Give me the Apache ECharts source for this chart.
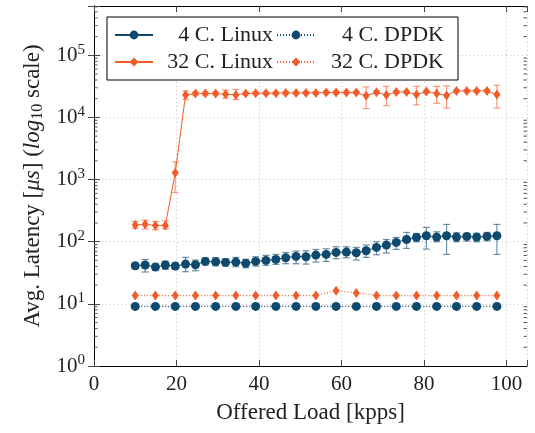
<!DOCTYPE html>
<html>
<head>
<meta charset="utf-8">
<script src="https://cdn.jsdelivr.net/npm/echarts@6/dist/echarts.min.js"></script>
<style>
  html, body { margin: 0; padding: 0; background: #fff; }
  #main { width: 535px; height: 433px; }
</style>
</head>
<body>
<div id="main"></div>
<script>
// offered load (kpps) for the two sampling grids
const loadLinux = [10.0, 12.4, 14.9, 17.3, 19.7, 22.2, 24.6, 27.0, 29.5, 31.9, 34.4, 36.8, 39.2, 41.7, 44.1, 46.5, 49.0, 51.4, 53.8, 56.3, 58.7, 61.2, 63.6, 66.0, 68.5, 70.9, 73.3, 75.8, 78.2, 80.6, 83.1, 85.5, 87.9, 90.4, 92.8, 95.3, 97.7];
const loadDpdk = [10.0, 14.9, 19.7, 24.6, 29.5, 34.4, 39.2, 44.1, 49.0, 53.8, 58.7, 63.6, 68.5, 73.3, 78.2, 83.1, 87.9, 92.8, 97.7];

// average latency in microseconds
const linux4 = [41.0, 42.1, 39.1, 42.1, 40.5, 43.6, 42.6, 48.2, 47.6, 46.4, 47.0, 44.8, 48.2, 50.0, 51.9, 55.2, 58.0, 57.3, 60.9, 62.4, 67.2, 68.0, 66.4, 71.5, 80.9, 88.2, 97.3, 108.7, 117.1, 124.5, 118.6, 124.5, 118.6, 121.6, 118.6, 121.6, 124.5];
const linux4Lo = [36.7, 32.5, 34.5, 35.8, 35.8, 32.9, 34.1, 42.1, 41.0, 40.5, 39.5, 38.1, 40.5, 41.5, 43.1, 44.2, 44.2, 43.6, 47.0, 48.2, 53.2, 55.2, 50.6, 55.9, 61.6, 65.6, 75.1, 78.0, 99.8, 76.0, 99.8, 62.4, 99.8, 102.3, 99.8, 103.5, 62.4];
const linux4Hi = [45.3, 51.9, 43.6, 48.8, 45.8, 55.9, 50.6, 55.2, 55.2, 53.2, 55.9, 51.9, 57.3, 60.2, 62.4, 67.2, 70.6, 71.5, 75.1, 77.0, 82.9, 82.9, 80.9, 88.2, 99.8, 108.7, 117.1, 141, 135.8, 169.5, 144.4, 189.6, 139.2, 135.8, 135.8, 141, 189.6];

const linux32 = [185, 190, 183, 183, 1282, 23000, 24200, 24200, 24200, 23600, 23000, 24200, 24500, 24500, 24500, 24800, 24800, 24800, 24800, 25100, 25100, 25100, 25100, 22200, 25400, 23000, 25700, 25700, 23300, 26000, 24200, 22500, 26700, 26700, 26700, 26700, 23300];
const linux32Lo = [164, 160, 155, 160, 620, 19600, 22900, 22900, 22900, 20400, 19400, 23000, 23300, 23300, 23300, 23600, 23600, 23600, 23600, 23900, 23900, 23900, 23900, 13900, 24100, 15500, 24400, 24400, 15900, 24700, 16900, 14100, 25400, 25400, 25400, 25400, 14100];
const linux32Hi = [212, 222, 212, 217, 1926, 26700, 25600, 25600, 25600, 27400, 28100, 25400, 25700, 25700, 25700, 26000, 26000, 26000, 26000, 26400, 26400, 26400, 26400, 31000, 26700, 31700, 27000, 27000, 31700, 27300, 31700, 32100, 28000, 28000, 28000, 28000, 32900];

const dpdk4 = [9.1, 9.1, 9.1, 9.1, 9.1, 9.1, 9.1, 9.1, 9.1, 9.1, 9.1, 9.1, 9.1, 9.1, 9.1, 9.1, 9.1, 9.1, 9.1];
const dpdk32 = [13.6, 13.6, 13.6, 13.6, 13.6, 13.6, 13.6, 13.6, 13.6, 13.6, 16.3, 15.0, 13.6, 13.6, 13.6, 13.6, 13.6, 13.6, 13.6];

const seriesNames = ['4 C. Linux', '4 C. DPDK', '32 C. Linux', '32 C. DPDK'];
const xTicks = [0, 20, 40, 60, 80, 100];
const yMin = 1, yMax = 620000;

const BLUE = '#0e4a6d';
const ORANGE = '#f15a29';
const FONT = '"Liberation Serif", "DejaVu Serif", serif';

// log-spaced minor tick positions (2..9 per decade)
const minorTicks = [];
[1, 10, 100, 1e3, 1e4, 1e5].forEach(d => {
  for (let m = 2; m <= 9; m++) if (d * m < yMax) minorTicks.push(d * m);
});

const zip = (xs, ys) => xs.map((x, i) => [x, ys[i]]);
const zip3 = (xs, a, b) => xs.map((x, i) => [x, a[i], b[i]]);

function errorBars(color) {
  return function (params, api) {
    const x = api.value(0);
    const lo = api.coord([x, api.value(1)]);
    const hi = api.coord([x, api.value(2)]);
    const w = 3.5;
    const style = { stroke: color, lineWidth: 1.2, opacity: 0.6 };
    return {
      type: 'group',
      children: [
        { type: 'line', shape: { x1: lo[0], y1: lo[1], x2: hi[0], y2: hi[1] }, style },
        { type: 'line', shape: { x1: lo[0] - w, y1: lo[1], x2: lo[0] + w, y2: lo[1] }, style },
        { type: 'line', shape: { x1: hi[0] - w, y1: hi[1], x2: hi[0] + w, y2: hi[1] }, style }
      ]
    };
  };
}

function minorTickRender(params, api) {
  const y = api.coord([0, api.value(1)])[1];
  const cs = params.coordSys;
  const style = { stroke: '#555', lineWidth: 1 };
  return {
    type: 'group',
    children: [
      { type: 'line', shape: { x1: cs.x, y1: y, x2: cs.x + 3.5, y2: y }, style },
      { type: 'line', shape: { x1: cs.x + cs.width - 3.5, y1: y, x2: cs.x + cs.width, y2: y }, style }
    ]
  };
}

const isPow10 = v => Math.abs(Math.log10(v) - Math.round(Math.log10(v))) < 1e-6;

var chartDom = document.getElementById('main');
var myChart = echarts.init(chartDom, null, { renderer: 'canvas' });
var option;

const tickStyle = { show: true, inside: true, length: 6, lineStyle: { color: '#444', width: 1 } };
const axisLine = { show: true, lineStyle: { color: '#000', width: 1 } };
const gridLine = { show: true, lineStyle: { color: '#c4c4c4', width: 1, type: [1, 3] } };

option = {
  animation: false,
  backgroundColor: '#fff',
  grid: { left: 94, right: 8, top: 6, bottom: 67 },
  legend: {
    data: seriesNames,
    left: 107,
    top: 17,
    width: 335,
    orient: 'horizontal',
    itemGap: 3,
    itemWidth: 38,
    itemHeight: 11,
    padding: [6, 14, 6, 7],
    borderColor: '#000',
    borderWidth: 1,
    borderRadius: 0,
    backgroundColor: '#fff',
    formatter: name => '{' + (name.indexOf('DPDK') >= 0 ? 'b' : 'a') + '|' + name + '}',
    textStyle: {
      fontFamily: FONT, fontSize: 22, color: '#222', lineHeight: 24,
      rich: {
        a: { width: 115, align: 'right', fontFamily: FONT, fontSize: 22, color: '#222', lineHeight: 24 },
        b: { width: 124, align: 'right', fontFamily: FONT, fontSize: 22, color: '#222', lineHeight: 24 }
      }
    }
  },
  xAxis: [
    {
      type: 'value', min: 0, max: 105, interval: 20,
      name: 'Offered Load [kpps]', nameLocation: 'middle', nameGap: 35,
      nameTextStyle: { fontFamily: FONT, fontSize: 23, color: '#222' },
      axisLine, axisTick: tickStyle, splitLine: gridLine,
      axisLabel: {
        margin: 8, fontFamily: FONT, fontSize: 21, color: '#222',
        formatter: v => (xTicks.indexOf(v) >= 0 ? String(v) : '')
      }
    },
    {
      type: 'value', min: 0, max: 105, interval: 20, position: 'top',
      axisLine, axisTick: tickStyle, splitLine: { show: false }, axisLabel: { show: false }
    }
  ],
  yAxis: [
    {
      type: 'log', logBase: 10, min: yMin, max: yMax,
      name: 'Avg. Latency [{i|μs}] ({i|log}{s|10} scale)', nameLocation: 'middle', nameGap: 46,
      nameTextStyle: {
        fontFamily: FONT, fontSize: 23, color: '#222', lineHeight: 26,
        rich: {
          i: { fontFamily: FONT, fontSize: 23, fontStyle: 'italic', color: '#222', lineHeight: 26 },
          s: { fontFamily: FONT, fontSize: 16, color: '#222', lineHeight: 12, verticalAlign: 'bottom' }
        }
      },
      axisLine, axisTick: tickStyle, splitLine: gridLine,
      axisLabel: {
        margin: 9,
        formatter: v => (isPow10(v) ? '{b|10}{s|' + Math.round(Math.log10(v)) + '}' : ''),
        rich: {
          b: { fontFamily: FONT, fontSize: 21, color: '#222', lineHeight: 26 },
          s: { fontFamily: FONT, fontSize: 15, color: '#222', lineHeight: 12, verticalAlign: 'top' }
        }
      }
    },
    {
      type: 'log', logBase: 10, min: yMin, max: yMax, position: 'right',
      axisLine, axisTick: tickStyle, splitLine: { show: false }, axisLabel: { show: false }
    }
  ],
  series: [
    {
      type: 'custom', name: 'minor', silent: true, renderItem: minorTickRender,
      data: minorTicks.map(v => [0, v]), encode: { x: 0, y: 1 }, z: 1
    },
    {
      type: 'custom', name: 'err4', silent: true, renderItem: errorBars(BLUE),
      data: zip3(loadLinux, linux4Lo, linux4Hi), encode: { x: 0, y: [1, 2] }, z: 2
    },
    {
      type: 'custom', name: 'err32', silent: true, renderItem: errorBars(ORANGE),
      data: zip3(loadLinux, linux32Lo, linux32Hi), encode: { x: 0, y: [1, 2] }, z: 2
    },
    {
      name: seriesNames[0], type: 'line', data: zip(loadLinux, linux4),
      symbol: 'circle', symbolSize: 9, showAllSymbol: true, z: 3,
      itemStyle: { color: BLUE }, lineStyle: { color: BLUE, width: 1 }
    },
    {
      name: seriesNames[1], type: 'line', data: zip(loadDpdk, dpdk4),
      symbol: 'circle', symbolSize: 9, showAllSymbol: true, z: 3,
      itemStyle: { color: BLUE }, lineStyle: { color: BLUE, width: 1.2, type: [1, 2] }
    },
    {
      name: seriesNames[2], type: 'line', data: zip(loadLinux, linux32),
      symbol: 'diamond', symbolSize: [7, 10], showAllSymbol: true, z: 3,
      itemStyle: { color: ORANGE }, lineStyle: { color: ORANGE, width: 1 }
    },
    {
      name: seriesNames[3], type: 'line', data: zip(loadDpdk, dpdk32),
      symbol: 'diamond', symbolSize: [7, 10], showAllSymbol: true, z: 3,
      itemStyle: { color: ORANGE }, lineStyle: { color: ORANGE, width: 1.2, type: [1, 2] }
    }
  ]
};

option && myChart.setOption(option);

window.onresize = function () {
  myChart.resize();
};
</script>
</body>
</html>
